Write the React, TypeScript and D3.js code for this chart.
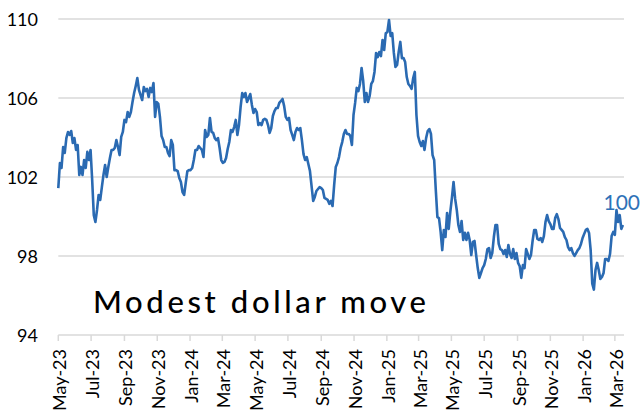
import React, { useEffect, useRef } from 'react';
import * as d3 from 'd3';

// dollar index, one reading every 3 calendar days from 1 May 2023
const startDate = new Date(2023, 4, 1);
const stepDays = 3;
const dxyValues = [
  101.44, 102.71, 102.46, 103.52, 103.22, 103.97, 104.28, 104.13, 104.33, 103.72,
  103.97, 103.37, 103.62, 102.10, 102.51, 102.10, 102.86, 102.46, 103.27, 102.86,
  103.37, 101.85, 100.07, 99.72, 100.33, 101.09, 100.84, 101.49, 102.10, 102.61,
  102.00, 102.51, 102.96, 103.37, 103.37, 103.47, 103.87, 103.52, 103.11, 104.03,
  104.28, 104.89, 104.78, 105.29, 105.04, 105.29, 105.80, 106.25, 106.61, 107.01,
  106.41, 106.15, 105.90, 106.56, 106.35, 106.46, 106.05, 106.51, 106.30, 106.76,
  105.04, 105.80, 105.70, 105.04, 104.08, 103.87, 103.52, 103.52, 103.22, 103.06,
  103.87, 103.62, 102.35, 102.35, 102.30, 101.95, 101.75, 101.24, 101.09, 101.70,
  102.30, 102.35, 102.35, 102.46, 102.86, 103.37, 103.37, 103.57, 103.47, 103.37,
  103.01, 104.38, 104.03, 104.13, 104.99, 104.28, 104.23, 103.97, 103.87, 103.97,
  103.47, 102.86, 102.71, 102.76, 102.96, 103.42, 103.77, 104.38, 104.28, 104.53,
  104.89, 104.13, 104.63, 105.54, 106.25, 106.05, 106.25, 105.80, 106.00, 106.20,
  105.65, 105.24, 105.44, 105.29, 104.63, 104.73, 104.63, 104.89, 104.94, 104.89,
  104.63, 104.23, 104.48, 105.09, 105.34, 105.49, 105.49, 105.75, 105.85, 105.95,
  105.59, 105.04, 104.89, 104.99, 104.38, 104.13, 103.87, 104.28, 104.48, 104.38,
  104.48, 103.87, 103.16, 102.86, 103.01, 102.66, 102.30, 101.54, 100.79, 100.99,
  101.29, 101.39, 101.49, 101.44, 101.34, 100.94, 100.89, 100.84, 100.64, 100.79,
  100.53, 101.59, 102.51, 102.71, 103.01, 103.47, 103.77, 104.18, 104.38, 104.18,
  104.18, 104.08, 103.62, 105.14, 105.75, 106.51, 106.35, 106.71, 107.52, 106.86,
  105.80, 106.25, 105.80, 106.10, 106.71, 106.86, 107.32, 108.28, 108.07, 108.33,
  108.12, 108.94, 108.43, 109.29, 109.34, 109.95, 109.14, 109.29, 108.28, 107.57,
  107.67, 108.33, 108.84, 108.02, 108.02, 107.82, 107.06, 106.71, 106.61, 106.46,
  107.01, 107.32, 105.14, 104.08, 103.77, 103.57, 103.82, 103.37, 103.97, 104.33,
  104.43, 104.18, 103.11, 102.86, 101.34, 99.97, 99.92, 99.22, 98.30, 99.32,
  98.96, 100.18, 99.37, 100.23, 100.94, 101.75, 100.89, 100.33, 99.57, 99.22,
  99.77, 98.81, 99.17, 98.81, 99.17, 98.81, 98.05, 98.71, 98.76, 98.05,
  97.39, 96.89, 97.14, 97.39, 97.54, 97.85, 98.35, 98.40, 97.90, 98.15,
  98.96, 99.57, 99.57, 98.61, 98.35, 98.30, 98.10, 98.30, 97.95, 98.56,
  98.10, 97.90, 98.35, 97.85, 98.15, 97.65, 97.49, 96.89, 97.54, 97.39,
  98.35, 98.10, 97.85, 98.05, 98.76, 99.32, 99.32, 98.86, 98.81, 98.91,
  98.71, 99.01, 99.72, 100.07, 99.77, 99.62, 99.37, 99.37, 99.92, 100.12,
  99.87, 99.42, 99.32, 99.22, 98.96, 98.81, 98.45, 98.30, 98.40, 98.15,
  98.00, 98.15, 98.30, 98.40, 98.61, 98.91, 99.12, 99.32, 99.37, 99.17,
  98.30, 96.60, 96.30, 97.29, 97.65, 97.29, 96.84, 96.94, 97.14, 97.85,
  97.85, 97.75, 98.10, 99.01, 99.22, 99.07, 100.33, 99.72, 100.07, 99.37, 99.57,
];
const yTicks = [94, 98, 102, 106, 110];
const xDomain = [new Date(2023, 4, 1), new Date(2026, 2, 18)];
const noteText = 'Modest dollar move';
const endLabel = '100';

const App = () => {
  const ref = useRef<SVGSVGElement>(null);

  useEffect(() => {
    const svg = d3.select(ref.current);
    svg.selectAll('*').remove();

    const width = 641;
    const height = 412;
    const left = 58.3;
    const right = 624;
    const top = 19;
    const bottom = 335;
    const font = 'Lato, "Open Sans", sans-serif';
    const grid = '#d9d9d9';
    const blue = '#2a6ab2';

    svg.attr('width', width).attr('height', height);

    const data = dxyValues.map((v, i) => ({
      date: d3.timeDay.offset(startDate, i * stepDays),
      value: v,
    }));

    const x = d3.scaleTime().domain(xDomain).range([left, right]);
    const y = d3.scaleLinear().domain([94, 110]).range([bottom, top]);

    // horizontal gridlines
    svg
      .append('g')
      .selectAll('line')
      .data(yTicks.filter(t => t !== 94))
      .enter()
      .append('line')
      .attr('x1', left)
      .attr('x2', right)
      .attr('y1', d => y(d))
      .attr('y2', d => y(d))
      .attr('stroke', grid)
      .attr('stroke-width', 1.5);

    // y labels
    svg
      .append('g')
      .selectAll('text')
      .data(yTicks)
      .enter()
      .append('text')
      .attr('x', 38)
      .attr('y', d => y(d))
      .attr('text-anchor', 'end')
      .attr('dominant-baseline', 'central')
      .style('font-family', font)
      .style('font-size', '18px')
      .attr('fill', '#000')
      .text(d => d);

    // bottom axis
    const xTicks = x.ticks(d3.timeMonth.every(2));
    svg
      .append('line')
      .attr('x1', left)
      .attr('x2', right)
      .attr('y1', bottom)
      .attr('y2', bottom)
      .attr('stroke', grid)
      .attr('stroke-width', 1.5);

    svg
      .append('g')
      .selectAll('line')
      .data(xTicks)
      .enter()
      .append('line')
      .attr('x1', d => x(d))
      .attr('x2', d => x(d))
      .attr('y1', bottom)
      .attr('y2', bottom + 6)
      .attr('stroke', grid)
      .attr('stroke-width', 1.5);

    svg
      .append('g')
      .selectAll('text')
      .data(xTicks)
      .enter()
      .append('text')
      .attr('transform', d => `translate(${x(d) + 1},349) rotate(-90)`)
      .attr('text-anchor', 'end')
      .attr('dominant-baseline', 'central')
      .style('font-family', font)
      .style('font-size', '18px')
      .attr('fill', '#000')
      .text(d => d3.timeFormat('%b-%y')(d));

    // the series
    const line = d3
      .line<{ date: Date; value: number }>()
      .x(d => x(d.date))
      .y(d => y(d.value));

    svg
      .append('path')
      .datum(data)
      .attr('d', line)
      .attr('fill', 'none')
      .attr('stroke', blue)
      .attr('stroke-width', 2.6)
      .attr('stroke-linejoin', 'round');

    // end value label
    svg
      .append('text')
      .attr('x', 640)
      .attr('y', 210)
      .attr('text-anchor', 'end')
      .style('font-family', font)
      .style('font-size', '21px')
      .attr('fill', '#2e72b8')
      .text(endLabel);

    // note
    svg
      .append('text')
      .attr('x', 93)
      .attr('y', 313)
      .attr('textLength', 333)
      .attr('lengthAdjust', 'spacing')
      .style('font-family', '"Comic Sans MS", Lato, sans-serif')
      .style('font-size', '31px')
      .style('font-weight', 500)
      .attr('fill', '#000')
      .text(noteText);
  }, []);

  return (
    <div style={{ position: 'absolute', left: 0, top: 0, background: '#fff' }}>
      <svg ref={ref} style={{ display: 'block' }} />
    </div>
  );
};

export default App;
